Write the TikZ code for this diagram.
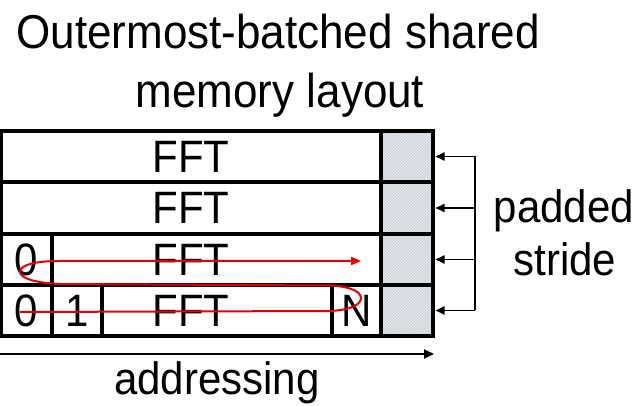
\documentclass[tikz,border=0pt]{standalone}
\usepackage{fontspec}
\usepackage{graphicx}
\setmainfont{Liberation Sans}
\usetikzlibrary{arrows.meta,patterns}
\definecolor{padfill}{RGB}{226,231,236}
\definecolor{padline}{RGB}{195,201,208}
\definecolor{trace}{RGB}{232,0,0}
% text slightly taller than its width
\newcommand{\tall}[1]{\scalebox{1}[1.08]{#1}}
\tikzset{
  grid/.style={line width=3.6pt},
  outer/.style={line width=4.4pt},
  label/.style={font=\fontsize{42}{48}\selectfont, inner sep=0pt},
  cellnum/.style={font=\fontsize{42}{48}\selectfont, inner sep=0pt, anchor=center},
  stridearrow/.style={line width=1.8pt, -{Triangle[length=9pt,width=8pt]}},
  addrarrow/.style={line width=2pt, -{Triangle[length=10pt,width=9pt]}},
  tracepath/.style={draw=trace, line width=2pt, -{Triangle[length=10pt,width=8pt]}},
}
\begin{document}
\begin{tikzpicture}[x=1pt,y=-1pt]
\useasboundingbox (0,0) rectangle (641,406);

% title
\node[label, anchor=base] (t1) at (278,49) {\fontsize{44}{50}\selectfont\tall{Outermost-batched shared}};
\node[label, anchor=base] (t2) at (280,108) {\fontsize{44}{50}\selectfont\tall{memory layout}};

% padding column
\fill[padfill] (381,131) rectangle (433,336);
\fill[pattern=north east lines, pattern color=padline] (381,131) rectangle (433,336);

% row separators and columns
\draw[grid] (1,182) -- (433,182);
\draw[grid] (1,234) -- (433,234);
\draw[grid] (1,285) -- (433,285);
\draw[grid] (381,131) -- (381,336);
\draw[grid] (52,234) -- (52,285);
\draw[grid] (52,285) -- (52,336);
\draw[grid] (102,285) -- (102,336);
\draw[grid] (332,285) -- (332,336);
\draw[outer] (1,131) rectangle (433,336);

% cell labels
\node[cellnum] (f1) at (191,156.5) {\tall{FFT}};
\node[cellnum] (f2) at (191,208) {\tall{FFT}};
\node[cellnum] (f3) at (191,259.5) {\tall{FFT}};
\node[cellnum] (f4) at (191,310.5) {\tall{FFT}};
\node[cellnum] (z3) at (26,259.5) {\tall{0}};
\node[cellnum] (z4) at (26,310.5) {\tall{0}};
\node[cellnum] (o4) at (77,310.5) {\tall{1}};
\node[cellnum] (n4) at (356.5,310.5) {\tall{N}};

% row stride arrows
\coordinate (s1) at (475,156.5);
\coordinate (s2) at (475,208);
\coordinate (s3) at (475,259.5);
\coordinate (s4) at (475,310.5);
\coordinate (e1) at (435.5,156.5);
\coordinate (e2) at (435.5,208);
\coordinate (e3) at (435.5,259.5);
\coordinate (e4) at (435.5,310.5);
\draw[line width=1.8pt] (s1) -- (s4);
\draw[stridearrow] (s1) -- (e1);
\draw[stridearrow] (s2) -- (e2);
\draw[stridearrow] (s3) -- (e3);
\draw[stridearrow] (s4) -- (e4);
\node[label, anchor=base] (pad) at (564,223) {\tall{padded}};
\node[label, anchor=base] (str) at (565,276) {\tall{stride}};

% addressing direction
\coordinate (a0) at (0,354);
\coordinate (a1) at (434,354);
\draw[addrarrow] (a0) -- (a1);
\node[label, anchor=base] (addr) at (217,395) {\tall{addressing}};

% traversal order of the elements
\coordinate (p0) at (20,312);
\coordinate (p1) at (330,311);
\coordinate (p2) at (361,298);
\coordinate (p3) at (330,285.5);
\coordinate (p4) at (60,284);
\coordinate (p5) at (20,272);
\coordinate (p6) at (60,261);
\coordinate (p7) at (361,261);
\draw[tracepath] (p0) -- (p1)
  .. controls (350,310) and (361,305) .. (p2)
  .. controls (361,290) and (345,286) .. (p3)
  -- (p4)
  .. controls (35,283) and (20,278) .. (p5)
  .. controls (20,265) and (35,261) .. (p6)
  -- (p7);
\end{tikzpicture}
\end{document}
